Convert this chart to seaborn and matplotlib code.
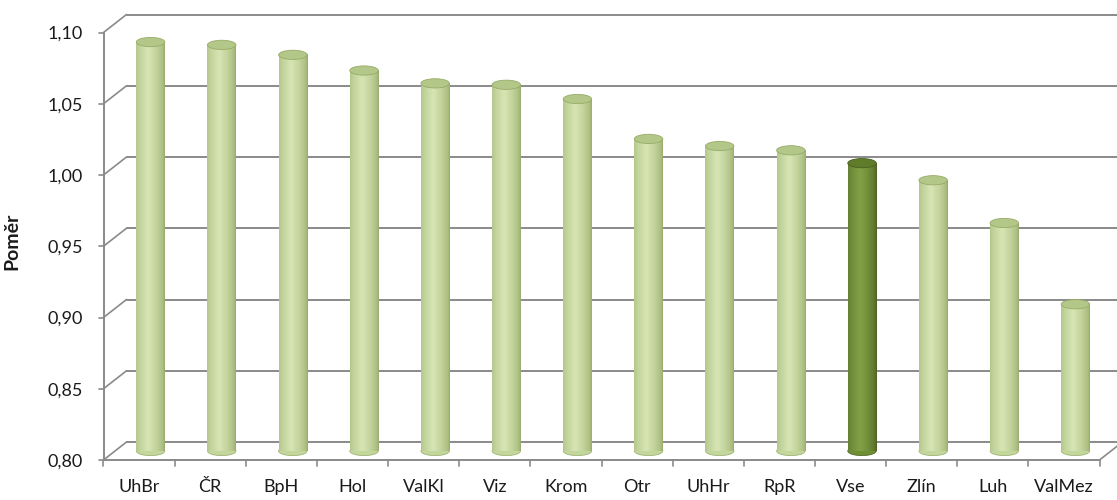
import numpy as np
import pandas as pd
import matplotlib.pyplot as plt
import matplotlib.transforms as mtransforms
from matplotlib.colors import to_rgb
from matplotlib.patches import Ellipse
import seaborn as sns

# data
regions = ["UhBr", "ČR", "BpH", "Hol", "ValKl", "Viz", "Krom",
           "Otr", "UhHr", "RpR", "Vse", "Zlín", "Luh", "ValMez"]
ratios = [1.087, 1.085, 1.078, 1.067, 1.058, 1.057, 1.047,
          1.019, 1.014, 1.011, 1.002, 0.990, 0.960, 0.903]
highlight = "Vse"
yticks = [0.80, 0.85, 0.90, 0.95, 1.00, 1.05, 1.10]
ytick_labels = ["0,80", "0,85", "0,90", "0,95", "1,00", "1,05", "1,10"]

df = pd.DataFrame({"region": regions, "ratio": ratios})

light = {"edge": "#97ab68", "mid": "#d6e5b3", "face": "#c3d69b", "top": "#b3c788"}
dark = {"edge": "#4a5e22", "mid": "#82a245", "face": "#6f8f35", "top": "#5f7c2b"}
palette = {r: (dark["face"] if r == highlight else light["face"]) for r in regions}

sns.set_theme(style="white")
plt.rcParams["font.family"] = ["Lato", "DejaVu Sans"]

fig = plt.figure(figsize=(11.17, 5.0), dpi=100)
ax = fig.add_axes([115 / 1117, 49 / 500, 996 / 1117, 427.5 / 500])

sns.barplot(data=df, x="region", y="ratio", hue="region", palette=palette,
            legend=False, width=0.4, ax=ax, zorder=3)

ymin, ymax = 0.80, 1.10
ax.set_ylim(ymin, ymax)
ax.set_xlim(-0.5, len(regions) - 0.5)

# perspective offsets (front plane vs back wall), in axes-x fraction / data-y
dx = 11.5 / 996
dy = (ymax - ymin) * 9 / 427.5
dx_data = dx * len(regions)
grid_c = "#8a8a8a"
ytrans = ax.get_yaxis_transform()
xtrans = ax.get_xaxis_transform()

# back wall gridlines
for v in yticks:
    ax.plot([dx, 1 + dx], [v + dy, v + dy], color=grid_c, lw=1.4,
            transform=ytrans, clip_on=False, zorder=1)
    # slanted connectors on the side wall
    ax.plot([-dx, dx], [v - dy, v + dy], color=grid_c, lw=1.2,
            transform=ytrans, clip_on=False, zorder=1)
    # tick marks on the front axis
    ax.plot([-dx - 0.005, -dx], [v - dy, v - dy], color=grid_c, lw=1.2,
            transform=ytrans, clip_on=False, zorder=1)

# front axis lines
ax.plot([-dx, -dx], [ymin - dy, ymax - dy], color=grid_c, lw=1.4,
        transform=ytrans, clip_on=False, zorder=1)
ax.plot([-dx, 1 - dx], [ymin - dy, ymin - dy], color=grid_c, lw=1.4,
        transform=ytrans, clip_on=False, zorder=1)
ax.plot([1 - dx, 1 + dx], [ymin - dy, ymin + dy], color=grid_c, lw=1.2,
        transform=ytrans, clip_on=False, zorder=1)
tick_len = 0.015
for b in np.arange(-0.5, len(regions), 1.0):
    ax.plot([b - dx_data, b - dx_data], [-dy / (ymax - ymin), -dy / (ymax - ymin) - tick_len],
            color=grid_c, lw=1.2, transform=xtrans, clip_on=False, zorder=1)

# cylinder shading for each bar
eh = 0.0065
shade = np.linspace(0, 1, 64)
for patch, reg in zip(ax.patches, regions):
    cols = dark if reg == highlight else light
    x0, w = patch.get_x(), patch.get_width()
    top = patch.get_height()
    c_edge = np.array(to_rgb(cols["edge"]))
    c_mid = np.array(to_rgb(cols["mid"]))
    prof = np.clip(1 - np.abs(shade - 0.42) / 0.58, 0, 1) ** 0.55
    grad = c_edge[None, :] + (c_mid - c_edge)[None, :] * prof[:, None]
    img = np.tile(grad[None, :, :], (2, 1, 1))
    # rounded bottom end
    bot = Ellipse((x0 + w / 2, ymin), w, eh, facecolor=cols["face"],
                  edgecolor=cols["edge"], lw=0.5, clip_on=False, zorder=2)
    ax.add_patch(bot)
    patch.set_y(ymin)
    patch.set_height(top - ymin)
    patch.set_facecolor("none")
    patch.set_edgecolor("none")
    patch.set_clip_on(False)
    im = ax.imshow(img, extent=[x0, x0 + w, ymin, top], aspect="auto",
                   zorder=3, interpolation="bilinear")
    im.set_clip_path(patch)
    im.set_clip_on(False)
    topell = Ellipse((x0 + w / 2, top), w, eh, facecolor=cols["top"],
                     edgecolor=cols["edge"], lw=0.6, zorder=4, clip_on=False)
    ax.add_patch(topell)

ax.set_ylim(ymin, ymax)
ax.set_xlim(-0.5, len(regions) - 0.5)

for s in ax.spines.values():
    s.set_visible(False)
ax.grid(False)

ax.set_yticks(yticks)
ax.set_yticklabels(ytick_labels)
ax.tick_params(axis="y", length=0, pad=15, labelsize=13, labelcolor="#1a1a1a")
ax.tick_params(axis="x", length=0, pad=14, labelsize=13, labelcolor="#1a1a1a")
shift = mtransforms.ScaledTranslation(-11.5 / 100, -9 / 100, fig.dpi_scale_trans)
for lab in ax.get_yticklabels() + ax.get_xticklabels():
    lab.set_transform(lab.get_transform() + shift)

ax.set_xlabel("")
ax.set_ylabel("Poměr", fontsize=14, fontweight="bold", color="#1a1a1a")
ax.yaxis.set_label_coords(-95 / 996, 0.49)

plt.savefig("out.png", dpi=100)
